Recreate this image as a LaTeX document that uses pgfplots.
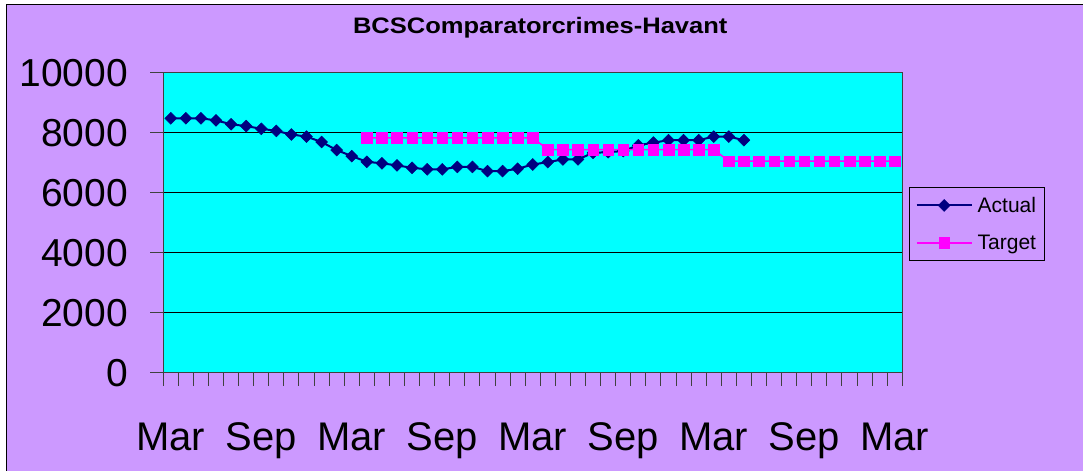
\documentclass[border=0pt]{standalone}
\usepackage{fontspec}
\setmainfont{Liberation Sans}
\usepackage{graphicx}
\usepackage{pgfplots}
\pgfplotsset{compat=1.18}
\definecolor{bgp}{HTML}{CC99FF}
\definecolor{plotc}{HTML}{00FFFF}
\definecolor{navyc}{HTML}{000080}
\definecolor{magc}{HTML}{FF00FF}
\pgfplotstableread{
x y
0 8480
1 8480
2 8480
3 8410
4 8280
5 8220
6 8130
7 8060
8 7940
9 7870
10 7690
11 7420
12 7220
13 7030
14 6980
15 6910
16 6830
17 6780
18 6780
19 6860
20 6860
21 6720
22 6720
23 6800
24 6940
25 7020
26 7110
27 7110
28 7330
29 7350
30 7390
31 7580
32 7670
33 7750
34 7750
35 7750
36 7870
37 7870
38 7750
}\actual
\pgfplotstableread{
x y
13 7830
14 7830
15 7830
16 7830
17 7830
18 7830
19 7830
20 7830
21 7830
22 7830
23 7830
24 7830
25 7440
26 7440
27 7440
28 7440
29 7440
30 7440
31 7440
32 7440
33 7440
34 7440
35 7440
36 7440
37 7050
38 7050
39 7050
40 7050
41 7050
42 7050
43 7050
44 7050
45 7050
46 7050
47 7050
48 7050
}\target
\begin{document}
\begin{tikzpicture}
\fill[white] (0,0) rectangle (1083bp,471bp);
\fill[bgp] (7bp,0) rectangle (1083bp,466bp);
\draw[black, line width=1bp] (7bp,0) -- (7bp,466bp) -- (1083bp,466bp);
\node[font=\bfseries\fontsize{22.4bp}{24bp}\selectfont] at (540.5bp,443bp) {\scalebox{1.14}[1]{BCSComparatorcrimes-Havant}};
\begin{axis}[
  at={(163.3bp,98bp)}, anchor=south west,
  scale only axis, width=739.4bp, height=300.3bp,
  xmin=-0.5, xmax=48.5, ymin=0, ymax=10000,
  axis background/.style={fill=plotc},
  axis line style={draw=black!75, line width=1bp},
  xtick={-0.5,0.5,...,48.5},
  xticklabels={Mar,,,,,,Sep,,,,,,Mar,,,,,,Sep,,,,,,Mar,,,,,,Sep,,,,,,Mar,,,,,,Sep,,,,,,Mar,},
  ytick={0,2000,...,10000},
  scaled y ticks=false,
  tick align=outside, major tick length=13bp,
  tick style={black!75, line width=1bp},
  xtick pos=left, ytick pos=left,
  ymajorgrids, grid style={black, line width=1bp},
  yticklabel style={font=\fontsize{39bp}{40bp}\selectfont, /pgf/number format/fixed, /pgf/number format/1000 sep={}, /pgf/number format/assume math mode=true, inner sep=0pt, xshift=-22bp},
  xticklabel style={font=\fontsize{40bp}{41bp}\selectfont, inner sep=0pt, anchor=north, xshift=7.55bp, yshift=-37bp},
  legend style={at={(1.0095,0.62)}, anchor=north west, draw=black, line width=0.8bp, fill=none,
    font=\fontsize{21bp}{22bp}\selectfont, inner xsep=6bp, inner ysep=8bp, row sep=17bp,
    /tikz/every odd column/.append style={column sep=3bp}},
  legend cell align=left,
  legend image code/.code={\draw[mark repeat=2,mark phase=2,#1] plot coordinates {(0bp,0bp) (27.5bp,0bp) (55bp,0bp)};},
]
\addplot[color=navyc, line width=2bp, mark=square*, mark size=4.2bp, mark options={rotate=45, line width=0.5bp, fill=navyc}] table[x=x,y=y] {\actual};
\addlegendentry{Actual}
\addplot[color=magc, line width=1.5bp, mark=square*, mark size=5.3bp, mark options={line width=0.5bp, fill=magc}] table[x=x,y=y] {\target};
\addlegendentry{Target}
\end{axis}
\end{tikzpicture}
\end{document}
